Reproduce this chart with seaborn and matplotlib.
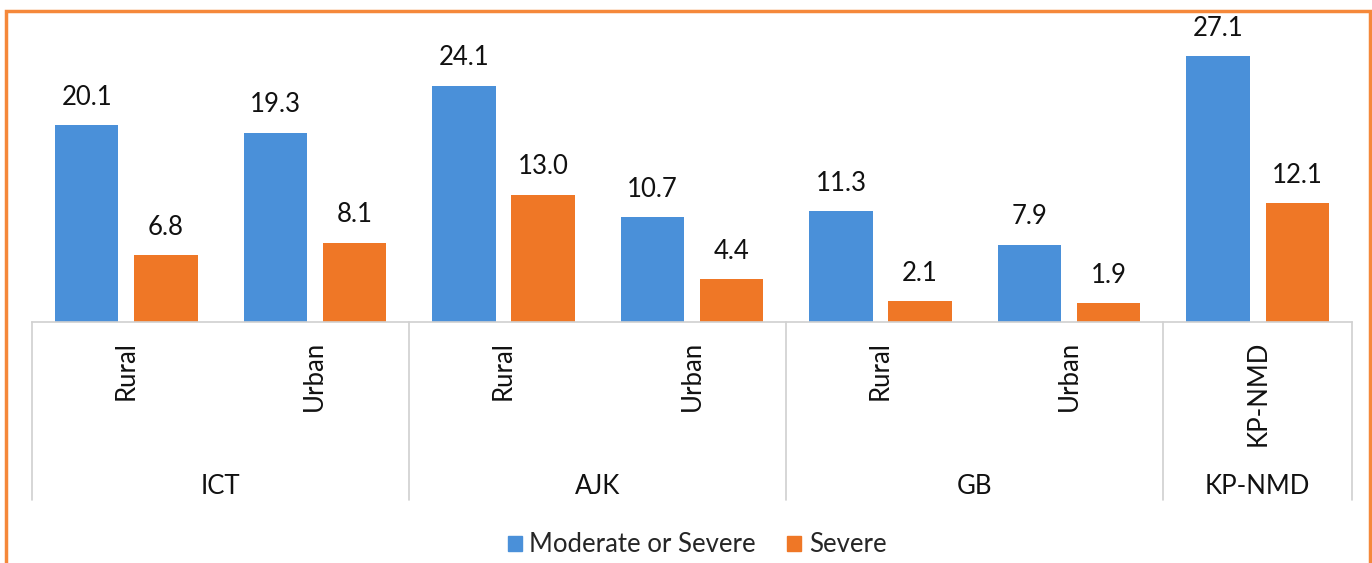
import pandas as pd
import numpy as np
import matplotlib
matplotlib.use("Agg")
import matplotlib.pyplot as plt
import seaborn as sns
from matplotlib.patches import Rectangle
from matplotlib.lines import Line2D

groups = ["ICT", "ICT", "AJK", "AJK", "GB", "GB", "KP-NMD"]
areas = ["Rural", "Urban", "Rural", "Urban", "Rural", "Urban", "KP-NMD"]
moderate_or_severe = [20.1, 19.3, 24.1, 10.7, 11.3, 7.9, 27.1]
severe = [6.8, 8.1, 13.0, 4.4, 2.1, 1.9, 12.1]
series = ["Moderate or Severe", "Severe"]
colors = ["#4A90D9", "#EF7726"]

slots = [f"{g}|{a}" for g, a in zip(groups, areas)]
df = pd.DataFrame({
    "slot": slots * 2,
    "value": moderate_or_severe + severe,
    "series": [series[0]] * len(slots) + [series[1]] * len(slots),
})

sns.set_style("white")
plt.rcParams["font.family"] = ["Lato", "DejaVu Sans"]
FS = 18.5

fig = plt.figure(figsize=(13.72, 5.63), dpi=100)
ax = fig.add_axes([32 / 1372, 1 - 322 / 563, 1320 / 1372, 302 / 563])

sns.barplot(data=df, x="slot", y="value", hue="series", order=slots,
            palette=colors, saturation=1, width=0.84, gap=0.2, ax=ax,
            legend=False, linewidth=0)

for cont in ax.containers:
    ax.bar_label(cont, fmt="%.1f", padding=11, fontsize=FS, color="#111111")

ax.set_xlim(-0.5, len(slots) - 0.5)
ax.set_ylim(0, 30.8)
ax.set_xticks([])
ax.set_yticks([])
ax.set_xlabel("")
ax.set_ylabel("")
for s in ["left", "right", "top"]:
    ax.spines[s].set_visible(False)
ax.spines["bottom"].set_color("#d0d0d0")
ax.spines["bottom"].set_linewidth(1.2)

# multi-level category axis
trans = ax.get_xaxis_transform()
for i, a in enumerate(areas):
    ax.text(i, -19 / 302, a, rotation=90, ha="center", va="top",
            fontsize=FS, color="#111111", transform=trans)

bounds = [0]
for i in range(1, len(groups)):
    if groups[i] != groups[i - 1]:
        bounds.append(i)
bounds.append(len(groups))
for b in bounds:
    ax.add_line(Line2D([b - 0.5, b - 0.5], [0, -178 / 302], transform=trans,
                       color="#d0d0d0", lw=1.2, clip_on=False))
for b0, b1 in zip(bounds[:-1], bounds[1:]):
    ax.text((b0 + b1 - 1) / 2, -164 / 302, groups[b0], ha="center", va="center",
            fontsize=FS, color="#111111", transform=trans)

handles = [Rectangle((0, 0), 1, 1, color=c) for c in colors]
fig.legend(handles, series, loc="center", bbox_to_anchor=(0.508, 1 - 545 / 563),
           ncol=2, frameon=False, fontsize=FS, handlelength=0.55, handleheight=0.55,
           handletextpad=0.3, columnspacing=1.2)

# orange frame around the chart
fig.patches.append(Rectangle((6 / 1372, -0.1), 1364 / 1372, 1.1 - 11 / 563,
                             transform=fig.transFigure, fill=False,
                             edgecolor="#F5883A", lw=2.5))

fig.savefig("out.png", dpi=100)
